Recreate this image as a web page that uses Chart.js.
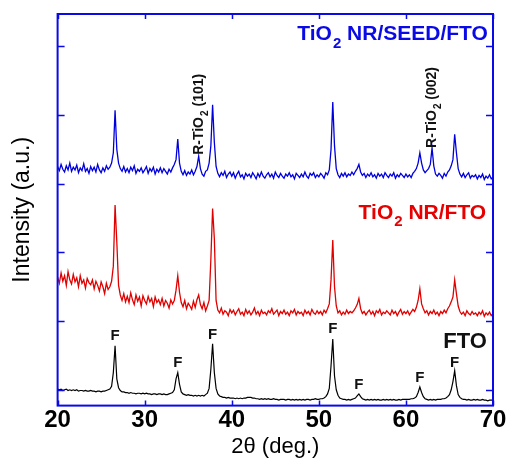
<!DOCTYPE html>
<html>
<head>
<meta charset="utf-8">
<script src="https://cdn.jsdelivr.net/npm/chart.js@4.4.1/dist/chart.umd.min.js"></script>
<style>
  html, body { margin: 0; padding: 0; background: #fff; }
</style>
</head>
<body>
<canvas id="xrd" width="511" height="459"></canvas>
<script>
// 2theta grid (deg.), 0.2 step
var twoTheta = [
  20.0,20.2,20.4,20.6,20.8,21.0,21.2,21.4,21.6,21.8,
  22.0,22.2,22.4,22.6,22.8,23.0,23.2,23.4,23.6,23.8,
  24.0,24.2,24.4,24.6,24.8,25.0,25.2,25.4,25.6,25.8,
  26.0,26.2,26.4,26.6,26.8,27.0,27.2,27.4,27.6,27.8,
  28.0,28.2,28.4,28.6,28.8,29.0,29.2,29.4,29.6,29.8,
  30.0,30.2,30.4,30.6,30.8,31.0,31.2,31.4,31.6,31.8,
  32.0,32.2,32.4,32.6,32.8,33.0,33.2,33.4,33.6,33.8,
  34.0,34.2,34.4,34.6,34.8,35.0,35.2,35.4,35.6,35.8,
  36.0,36.2,36.4,36.6,36.8,37.0,37.2,37.4,37.6,37.8,
  38.0,38.2,38.4,38.6,38.8,39.0,39.2,39.4,39.6,39.8,
  40.0,40.2,40.4,40.6,40.8,41.0,41.2,41.4,41.6,41.8,
  42.0,42.2,42.4,42.6,42.8,43.0,43.2,43.4,43.6,43.8,
  44.0,44.2,44.4,44.6,44.8,45.0,45.2,45.4,45.6,45.8,
  46.0,46.2,46.4,46.6,46.8,47.0,47.2,47.4,47.6,47.8,
  48.0,48.2,48.4,48.6,48.8,49.0,49.2,49.4,49.6,49.8,
  50.0,50.2,50.4,50.6,50.8,51.0,51.2,51.4,51.6,51.8,
  52.0,52.2,52.4,52.6,52.8,53.0,53.2,53.4,53.6,53.8,
  54.0,54.2,54.4,54.6,54.8,55.0,55.2,55.4,55.6,55.8,
  56.0,56.2,56.4,56.6,56.8,57.0,57.2,57.4,57.6,57.8,
  58.0,58.2,58.4,58.6,58.8,59.0,59.2,59.4,59.6,59.8,
  60.0,60.2,60.4,60.6,60.8,61.0,61.2,61.4,61.6,61.8,
  62.0,62.2,62.4,62.6,62.8,63.0,63.2,63.4,63.6,63.8,
  64.0,64.2,64.4,64.6,64.8,65.0,65.2,65.4,65.6,65.8,
  66.0,66.2,66.4,66.6,66.8,67.0,67.2,67.4,67.6,67.8,
  68.0,68.2,68.4,68.6,68.8,69.0,69.2,69.4,69.6,69.8,
  70.0
];

// TiO2 NR/SEED/FTO (blue, offset trace)
var seedFto = [
  3.25,3.19,3.28,3.21,3.17,3.26,3.20,3.30,3.18,3.24,
  3.20,3.27,3.16,3.23,3.19,3.29,3.18,3.22,3.15,3.25,
  3.19,3.24,3.17,3.28,3.20,3.16,3.23,3.18,3.26,3.21,
  3.24,3.30,3.45,4.07,3.50,3.30,3.22,3.18,3.25,3.17,
  3.22,3.16,3.24,3.19,3.26,3.15,3.21,3.18,3.23,3.16,
  3.20,3.25,3.15,3.22,3.18,3.24,3.14,3.21,3.17,3.23,
  3.16,3.22,3.18,3.14,3.21,3.17,3.23,3.28,3.35,3.65,
  3.30,3.18,3.13,3.19,3.12,3.17,3.14,3.20,3.13,3.18,
  3.25,3.40,3.22,3.14,3.11,3.18,3.20,3.30,3.55,4.15,
  3.60,3.25,3.15,3.10,3.16,3.12,3.18,3.09,3.14,3.17,
  3.11,3.16,3.08,3.14,3.18,3.10,3.13,3.07,3.15,3.11,
  3.14,3.09,3.16,3.12,3.07,3.15,3.10,3.17,3.11,3.08,
  3.13,3.16,3.10,3.14,3.08,3.17,3.12,3.09,3.15,3.11,
  3.08,3.14,3.11,3.16,3.10,3.13,3.07,3.15,3.12,3.09,
  3.14,3.10,3.17,3.11,3.08,3.15,3.12,3.16,3.09,3.13,
  3.10,3.15,3.12,3.08,3.16,3.13,3.20,3.50,4.19,3.55,
  3.22,3.13,3.09,3.15,3.11,3.16,3.10,3.14,3.12,3.17,
  3.13,3.18,3.22,3.28,3.17,3.12,3.15,3.09,3.14,3.11,
  3.16,3.10,3.13,3.08,3.15,3.11,3.14,3.09,3.16,3.12,
  3.09,3.14,3.11,3.16,3.08,3.13,3.10,3.15,3.12,3.09,
  3.14,3.10,3.13,3.09,3.15,3.18,3.22,3.30,3.45,3.30,
  3.20,3.16,3.19,3.22,3.28,3.52,3.26,3.14,3.11,3.15,
  3.12,3.08,3.15,3.11,3.17,3.20,3.26,3.35,3.72,3.45,
  3.22,3.14,3.10,3.15,3.09,3.13,3.16,3.08,3.12,3.10,
  3.13,3.07,3.12,3.09,3.14,3.06,3.11,3.08,3.13,3.07,
  3.10
];

// TiO2 NR/FTO (red, offset trace)
var nrFto = [
  1.64,1.55,1.70,1.58,1.66,1.52,1.72,1.60,1.54,1.68,
  1.57,1.63,1.50,1.66,1.55,1.60,1.48,1.62,1.56,1.53,
  1.60,1.47,1.58,1.52,1.44,1.57,1.50,1.40,1.55,1.46,
  1.50,1.58,1.80,2.69,2.15,1.52,1.38,1.30,1.40,1.28,
  1.36,1.27,1.41,1.31,1.24,1.38,1.29,1.35,1.22,1.37,
  1.30,1.25,1.36,1.28,1.33,1.21,1.35,1.27,1.31,1.24,
  1.33,1.22,1.30,1.26,1.19,1.31,1.25,1.30,1.45,1.66,
  1.42,1.27,1.21,1.30,1.18,1.26,1.22,1.17,1.29,1.20,
  1.31,1.38,1.24,1.18,1.27,1.15,1.22,1.30,1.90,2.64,
  2.20,1.30,1.16,1.12,1.19,1.10,1.15,1.13,1.08,1.17,
  1.12,1.16,1.09,1.14,1.18,1.10,1.13,1.08,1.17,1.11,
  1.15,1.09,1.13,1.19,1.10,1.14,1.08,1.16,1.11,1.13,
  1.09,1.15,1.12,1.18,1.10,1.13,1.16,1.08,1.14,1.11,
  1.16,1.10,1.13,1.08,1.15,1.12,1.17,1.09,1.14,1.11,
  1.13,1.08,1.16,1.11,1.14,1.09,1.17,1.12,1.10,1.15,
  1.11,1.14,1.09,1.16,1.12,1.18,1.25,1.60,2.18,1.50,
  1.22,1.12,1.15,1.09,1.13,1.10,1.16,1.11,1.14,1.12,
  1.15,1.19,1.24,1.33,1.18,1.11,1.14,1.09,1.13,1.16,
  1.10,1.14,1.08,1.15,1.12,1.17,1.09,1.13,1.11,1.15,
  1.12,1.09,1.16,1.11,1.14,1.08,1.13,1.17,1.10,1.14,
  1.11,1.15,1.09,1.13,1.17,1.14,1.20,1.30,1.47,1.25,
  1.18,1.12,1.15,1.09,1.14,1.11,1.16,1.10,1.13,1.08,
  1.14,1.11,1.16,1.12,1.18,1.22,1.28,1.35,1.60,1.40,
  1.22,1.14,1.10,1.13,1.08,1.15,1.11,1.09,1.14,1.10,
  1.12,1.08,1.13,1.10,1.15,1.07,1.12,1.09,1.13,1.08,
  1.11
];

// bare FTO (black)
var fto = [
  0.01,0.00,0.01,-0.01,0.00,0.01,-0.01,0.00,-0.01,0.00,
  -0.01,0.00,-0.02,-0.01,-0.01,-0.02,-0.01,-0.02,-0.02,-0.01,
  -0.02,-0.02,-0.03,-0.02,-0.02,-0.03,-0.02,-0.02,-0.01,0.00,
  0.01,0.05,0.25,0.64,0.16,0.03,-0.01,-0.03,-0.03,-0.04,
  -0.04,-0.05,-0.04,-0.05,-0.05,-0.06,-0.05,-0.05,-0.06,-0.05,
  -0.06,-0.05,-0.06,-0.06,-0.07,-0.06,-0.06,-0.07,-0.06,-0.06,
  -0.07,-0.06,-0.07,-0.07,-0.06,-0.05,-0.04,0.00,0.16,0.25,
  0.08,-0.03,-0.06,-0.07,-0.08,-0.07,-0.08,-0.08,-0.09,-0.08,
  -0.09,-0.08,-0.09,-0.08,-0.09,-0.07,-0.05,0.02,0.30,0.67,
  0.25,0.02,-0.06,-0.09,-0.10,-0.11,-0.11,-0.12,-0.11,-0.12,
  -0.12,-0.12,-0.13,-0.12,-0.13,-0.12,-0.13,-0.12,-0.12,-0.11,
  -0.11,-0.11,-0.12,-0.12,-0.13,-0.13,-0.14,-0.13,-0.14,-0.13,
  -0.14,-0.13,-0.14,-0.14,-0.13,-0.14,-0.14,-0.15,-0.14,-0.14,
  -0.14,-0.15,-0.14,-0.14,-0.15,-0.14,-0.15,-0.14,-0.15,-0.14,
  -0.15,-0.14,-0.15,-0.14,-0.14,-0.15,-0.14,-0.14,-0.13,-0.14,
  -0.14,-0.13,-0.13,-0.12,-0.10,-0.06,0.02,0.35,0.74,0.20,
  0.00,-0.08,-0.12,-0.13,-0.14,-0.14,-0.15,-0.14,-0.15,-0.14,
  -0.13,-0.12,-0.09,-0.06,-0.10,-0.13,-0.14,-0.15,-0.14,-0.15,
  -0.14,-0.15,-0.14,-0.15,-0.14,-0.15,-0.15,-0.14,-0.15,-0.14,
  -0.15,-0.14,-0.15,-0.14,-0.15,-0.15,-0.14,-0.15,-0.14,-0.14,
  -0.14,-0.14,-0.14,-0.13,-0.13,-0.12,-0.10,-0.04,0.04,-0.04,
  -0.10,-0.13,-0.14,-0.15,-0.14,-0.15,-0.14,-0.15,-0.14,-0.14,
  -0.14,-0.13,-0.13,-0.12,-0.10,-0.07,0.00,0.12,0.28,0.06,
  -0.07,-0.11,-0.13,-0.14,-0.14,-0.15,-0.14,-0.15,-0.15,-0.14,
  -0.15,-0.14,-0.15,-0.15,-0.14,-0.15,-0.15,-0.16,-0.15,-0.15,
  -0.15
];

var xTicks = [20, 30, 40, 50, 60, 70];
var yTicks = [0, 1, 2, 3, 4, 5];

// "F" (FTO reflection) markers: [2theta, height]
var fMarks = [[26.6, 0.79], [33.8, 0.39], [37.8, 0.80], [51.6, 0.89], [54.6, 0.07], [61.6, 0.18], [65.6, 0.39]];
// rutile markers, drawn vertically: [2theta, start height, hkl]
var rutileMarks = [[36.3, 3.42, '(101)'], [63.0, 3.52, '(002)']];

var frameBlue = '#0a0ae6';
var font = 'Liberation Sans, Arial, sans-serif';

// text with a subscripted part, anchored at its right end (or left end)
function subText(ctx, pre, sub, post, x, y, size, alignRight) {
  var big = 'bold ' + size + 'px ' + font;
  var small = 'bold ' + Math.round(size * 0.7) + 'px ' + font;
  ctx.font = big;
  var w1 = ctx.measureText(pre).width;
  var w3 = ctx.measureText(post).width;
  ctx.font = small;
  var w2 = ctx.measureText(sub).width;
  var x0 = alignRight ? x - (w1 + w2 + w3) : x;
  ctx.textAlign = 'left';
  ctx.textBaseline = 'middle';
  ctx.font = big;
  ctx.fillText(pre, x0, y);
  ctx.font = small;
  ctx.fillText(sub, x0 + w1 + 1, y + size * 0.42);
  ctx.font = big;
  ctx.fillText(post, x0 + w1 + w2 + 1, y);
}

var decorations = {
  id: 'decorations',
  afterDatasetsDraw: function(chart) {
    var ctx = chart.ctx, a = chart.chartArea;
    var xs = chart.scales.x, ys = chart.scales.y;
    ctx.save();

    // frame
    ctx.strokeStyle = frameBlue;
    ctx.lineWidth = 2;
    ctx.strokeRect(a.left, a.top, a.right - a.left, a.bottom - a.top);

    // inward ticks
    ctx.lineWidth = 1.5;
    ctx.beginPath();
    xTicks.forEach(function(v) {
      var px = Math.round(xs.getPixelForValue(v)) + 0.5;
      ctx.moveTo(px, a.bottom); ctx.lineTo(px, a.bottom - 5);
      ctx.moveTo(px, a.top); ctx.lineTo(px, a.top + 5);
    });
    yTicks.forEach(function(v) {
      var py = Math.round(ys.getPixelForValue(v)) + 0.5;
      ctx.moveTo(a.left, py); ctx.lineTo(a.left + 7, py);
      ctx.moveTo(a.right, py); ctx.lineTo(a.right - 7, py);
    });
    ctx.stroke();

    // F markers
    ctx.fillStyle = '#111';
    ctx.font = 'bold 15px ' + font;
    ctx.textAlign = 'center';
    ctx.textBaseline = 'middle';
    fMarks.forEach(function(m) {
      ctx.fillText('F', xs.getPixelForValue(m[0]), ys.getPixelForValue(m[1]));
    });
    ctx.font = 'bold 22px ' + font;
    ctx.fillText('FTO', xs.getPixelForValue(66.8), ys.getPixelForValue(0.69));

    // sample names
    ctx.fillStyle = '#0a0ae6';
    subText(ctx, 'TiO', '2', ' NR/SEED/FTO', xs.getPixelForValue(69.3), ys.getPixelForValue(5.17), 21, true);
    ctx.fillStyle = '#e60000';
    subText(ctx, 'TiO', '2', ' NR/FTO', xs.getPixelForValue(69.1), ys.getPixelForValue(2.57), 21, true);

    // rutile markers
    ctx.fillStyle = '#111';
    rutileMarks.forEach(function(m) {
      ctx.save();
      ctx.translate(xs.getPixelForValue(m[0]), ys.getPixelForValue(m[1]));
      ctx.rotate(-Math.PI / 2);
      subText(ctx, 'R-TiO', '2', ' ' + m[2], 0, 0, 14, false);
      ctx.restore();
    });

    ctx.restore();
  }
};

new Chart(document.getElementById('xrd'), {
  type: 'line',
  data: {
    labels: twoTheta,
    datasets: [
      { label: 'TiO2 NR/SEED/FTO', data: seedFto, borderColor: '#0000dd', borderWidth: 1.3 },
      { label: 'TiO2 NR/FTO', data: nrFto, borderColor: '#e00000', borderWidth: 1.3 },
      { label: 'FTO', data: fto, borderColor: '#000000', borderWidth: 1.2 }
    ]
  },
  options: {
    responsive: false,
    animation: false,
    devicePixelRatio: 1,
    layout: { padding: { left: 9, right: 18, top: 14, bottom: 0 } },
    elements: { point: { radius: 0 }, line: { tension: 0 } },
    plugins: { legend: { display: false }, tooltip: { enabled: false } },
    scales: {
      x: {
        type: 'linear', min: 20, max: 70,
        grid: { display: false, drawTicks: false },
        border: { display: false },
        afterBuildTicks: function(scale) { scale.ticks = xTicks.map(function(v) { return { value: v }; }); },
        ticks: { color: '#000', padding: 2, maxRotation: 0, font: { family: font, size: 24, weight: 'bold', lineHeight: 1.05 } },
        title: { display: true, text: '2θ (deg.)', color: '#000', padding: 0, font: { family: font, size: 22, lineHeight: 1.1 } }
      },
      y: {
        min: -0.23, max: 5.47,
        grid: { display: false, drawTicks: false },
        border: { display: false },
        ticks: { display: false },
        title: { display: true, text: 'Intensity (a.u.)', color: '#000', padding: { top: 0, bottom: 21 }, font: { family: font, size: 23, lineHeight: 1.2 } }
      }
    }
  },
  plugins: [decorations]
});
</script>
</body>
</html>
